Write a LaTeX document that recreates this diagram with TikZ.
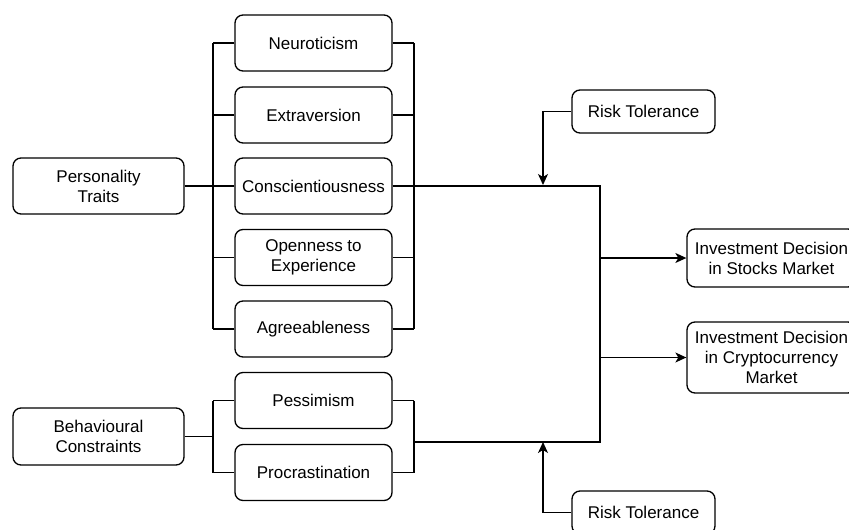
\documentclass[tikz,border=0pt]{standalone}
\usepackage{fontspec}
\setmainfont{Liberation Sans}
\usetikzlibrary{arrows.meta}

\begin{document}
\begin{tikzpicture}[x=1pt,y=-1pt,line width=1.3pt,
    box/.style={draw,rounded corners=8pt,align=center,inner sep=0pt,font=\fontsize{17}{20}\selectfont},
    trait/.style={box,minimum width=157pt,minimum height=56pt},
    arr/.style={-{Stealth[length=11pt,width=10pt,inset=3pt]}}]
    \path[use as bounding box,clip] (0,0) rectangle (849,530);
    % boxes
    \node[box,minimum width=171pt,minimum height=56pt] (pt) at (98.5,186) {Personality\\Traits};
    \node[box,minimum width=171pt,minimum height=57pt] (bc) at (98.5,436.5) {Behavioural\\Constraints};
    \node[trait] (neu) at (313.5,43) {Neuroticism};
    \node[trait] (ext) at (313.5,115) {Extraversion};
    \node[trait] (con) at (313.5,186) {Conscientiousness};
    \node[trait] (ope) at (313.5,257.5) {Openness to\\Experience};
    \node[trait] (agr) at (313.5,329) {Agreeableness};
    \node[trait] (pes) at (313.5,400.5) {Pessimism};
    \node[trait] (pro) at (313.5,472.5) {Procrastination};
    \node[box,minimum width=169pt,minimum height=58pt] (isd) at (771.5,258) {Investment Decision\\in Stocks Market};
    \node[box,minimum width=169pt,minimum height=71pt] (icd) at (771.5,357.5) {Investment Decision\\in Cryptocurrency\\Market};
    \node[box,minimum width=143pt,minimum height=43pt] (rt1) at (643.5,111.5) {Risk Tolerance};
    \node[box,minimum width=143pt,minimum height=43pt] (rt2) at (643.5,512.5) {Risk Tolerance};
    % brackets
    \coordinate (lb) at (213,0);
    \coordinate (rb) at (414,0);
    \coordinate (j1) at (600,185);
    \coordinate (j2) at (600,442);
    \coordinate (rt1in) at (543,185);
    \coordinate (rt2in) at (543,442);
    \foreach \n in {neu,ext,con,ope,agr,pes,pro} {
        \draw (\n.west) -- (\n.west -| lb);
        \draw (\n.east) -- (\n.east -| rb);
    }
    \draw (neu.west -| lb) -- (agr.west -| lb);
    \draw (neu.east -| rb) -- (agr.east -| rb);
    \draw (pes.west -| lb) -- (pro.west -| lb);
    \draw (pes.east -| rb) -- (pro.east -| rb);
    \draw (pt.east) -- (pt.east -| lb);
    \draw (bc.east) -- (bc.east -| lb);
    % trunk
    \draw (con.east) -- (con.east -| j1) -- (j2) -- (j2 -| rb);
    \draw[arr] (j1 |- isd.west) -- (isd.west);
    \draw[arr] (j1 |- icd.west) -- (icd.west);
    \draw[arr] (rt1.west) -| (rt1in);
    \draw[arr] (rt2.west) -| (rt2in);
\end{tikzpicture}
\end{document}
